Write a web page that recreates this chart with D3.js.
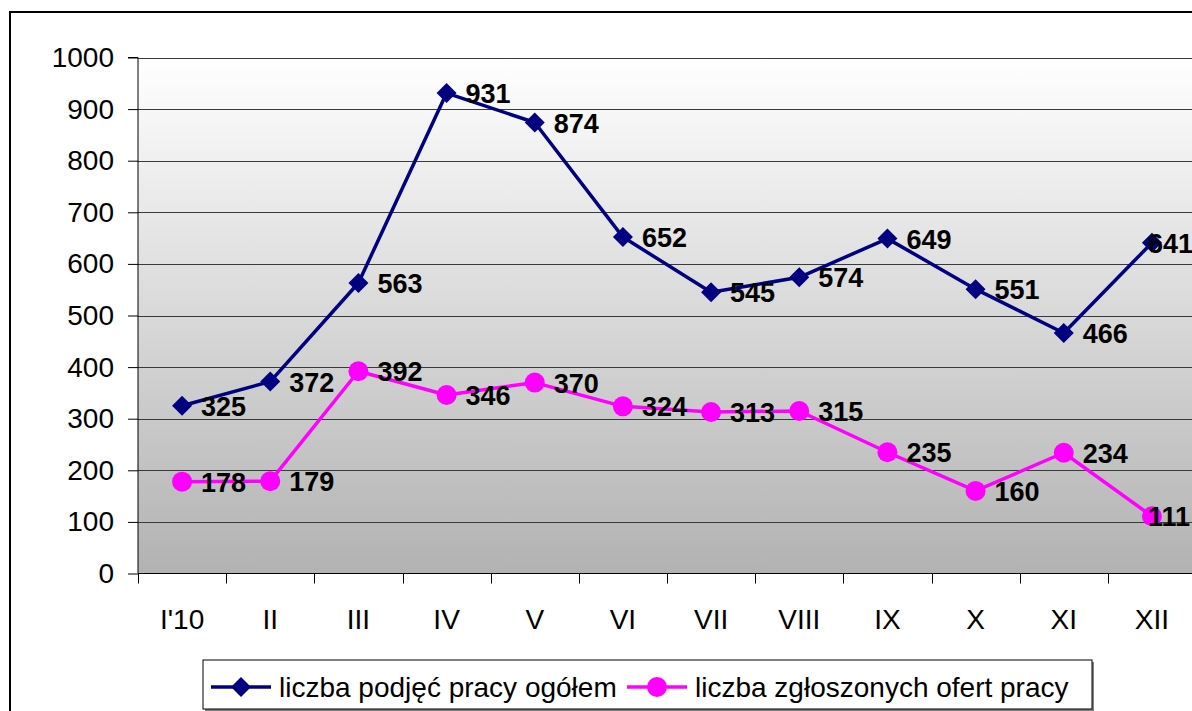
<!DOCTYPE html>
<html>
<head>
<meta charset="utf-8">
<script src="https://cdn.jsdelivr.net/npm/d3@7"></script>
<style>
    html, body { margin: 0; padding: 0; background: #fff; overflow: hidden; }
    svg { display: block; font-family: "Liberation Sans", Arial, sans-serif; }
</style>
</head>
<body>
<svg id="chart" width="1192" height="711"></svg>
<script>
// months of 2010
const months = ["I'10", "II", "III", "IV", "V", "VI", "VII", "VIII", "IX", "X", "XI", "XII"];
const totalJobs = [325, 372, 563, 931, 874, 652, 545, 574, 649, 551, 466, 641];
const jobOffers = [178, 179, 392, 346, 370, 324, 313, 315, 235, 160, 234, 111];
const yTicks = [0, 100, 200, 300, 400, 500, 600, 700, 800, 900, 1000];
const seriesNames = ["liczba podjęć pracy ogółem", "liczba zgłoszonych ofert pracy"];

const svg = d3.select('#chart');
const plot = { left: 138, right: 1196, top: 57.5, bottom: 573.5 };

const x = d3.scaleBand().domain(months).range([plot.left, plot.right]);
const y = d3.scaleLinear().domain([0, 1000]).range([plot.bottom, plot.top]);
const cx = d => x(d) + x.bandwidth() / 2;

// outer frame (right side is off the picture)
svg.append('rect')
    .attr('x', 10).attr('y', 12)
    .attr('width', 1300).attr('height', 800)
    .attr('fill', 'none')
    .attr('stroke', '#000')
    .attr('stroke-width', 2);

// gray gradient of the plot area
const grad = svg.append('defs').append('linearGradient')
    .attr('id', 'plotBg')
    .attr('x1', 0).attr('y1', 0).attr('x2', 0).attr('y2', 1);
grad.append('stop').attr('offset', '0%').attr('stop-color', '#ffffff');
grad.append('stop').attr('offset', '100%').attr('stop-color', '#b2b2b2');

svg.append('rect')
    .attr('x', plot.left).attr('y', plot.top)
    .attr('width', plot.right - plot.left)
    .attr('height', plot.bottom - plot.top)
    .attr('fill', 'url(#plotBg)');

// gridlines
svg.append('g')
    .selectAll('line')
    .data(yTicks.filter(t => t > 0))
    .enter()
    .append('line')
    .attr('x1', plot.left).attr('x2', plot.right)
    .attr('y1', d => Math.round(y(d)) + 0.5)
    .attr('y2', d => Math.round(y(d)) + 0.5)
    .attr('stroke', '#3a3a3a')
    .attr('stroke-width', 1);

// y axis
const yAxis = svg.append('g')
    .attr('transform', `translate(${plot.left},0)`)
    .call(d3.axisLeft(y).tickValues(yTicks).tickFormat(d3.format('d')).tickSize(10).tickPadding(14));
yAxis.selectAll('text')
    .attr('font-size', 28)
    .attr('fill', '#000')
    .attr('font-family', '"Liberation Sans", Arial, sans-serif');
yAxis.selectAll('line').attr('stroke', '#000');
yAxis.select('.domain').attr('stroke', '#000').attr('d', `M-10,${plot.top}H0V${plot.bottom}`);

// x axis
const xAxis = svg.append('g')
    .attr('transform', `translate(0,${plot.bottom})`)
    .call(d3.axisBottom(x).tickSize(0).tickPadding(0));
xAxis.select('.domain').attr('stroke', '#000').attr('d', `M${plot.left},0H${plot.right}`);
xAxis.selectAll('text')
    .attr('y', 55)
    .attr('dy', 0)
    .attr('font-size', 28)
    .attr('fill', '#000')
    .attr('font-family', '"Liberation Sans", Arial, sans-serif');

// tick marks between categories
xAxis.append('g')
    .selectAll('line')
    .data(months)
    .enter()
    .append('line')
    .attr('x1', d => Math.round(x(d)) + 0.5)
    .attr('x2', d => Math.round(x(d)) + 0.5)
    .attr('y1', 0).attr('y2', 10)
    .attr('stroke', '#000');

const line = d3.line()
    .x((d, i) => cx(months[i]))
    .y(d => y(d));

const diamond = d3.symbol().type(d3.symbolSquare).size(200);

function drawSeries(values, color, marker) {
    const g = svg.append('g');
    g.append('path')
        .datum(values)
        .attr('d', line)
        .attr('fill', 'none')
        .attr('stroke', color)
        .attr('stroke-width', 3.5)
        .attr('stroke-linejoin', 'round');

    const pts = g.selectAll('.pt')
        .data(values)
        .enter()
        .append('g')
        .attr('transform', (d, i) => `translate(${cx(months[i])},${y(d)})`);

    if (marker === 'diamond') {
        pts.append('path')
            .attr('d', diamond)
            .attr('transform', 'rotate(45)')
            .attr('fill', color);
    } else {
        pts.append('circle')
            .attr('r', 10)
            .attr('fill', color);
    }

    // value labels to the right of each point; the last one is pulled in at the edge
    g.selectAll('.lbl')
        .data(values)
        .enter()
        .append('text')
        .attr('x', (d, i) => cx(months[i]) + (i === values.length - 1 ? -4 : 19))
        .attr('y', d => y(d) + 10)
        .attr('font-size', 27)
        .attr('font-weight', 'bold')
        .attr('fill', '#000')
        .text(d => d);
}

drawSeries(totalJobs, '#000080', 'diamond');
drawSeries(jobOffers, '#ff00ff', 'circle');

// legend
const legend = svg.append('g');
legend.append('rect')
    .attr('x', 205).attr('y', 662)
    .attr('width', 889).attr('height', 50)
    .attr('fill', '#808080');
legend.append('rect')
    .attr('x', 203).attr('y', 660)
    .attr('width', 889).attr('height', 49)
    .attr('fill', '#fff')
    .attr('stroke', '#000')
    .attr('stroke-width', 1);

const legendItems = [
    { name: seriesNames[0], color: '#000080', marker: 'diamond', x0: 211 },
    { name: seriesNames[1], color: '#ff00ff', marker: 'circle', x0: 627 }
];
legendItems.forEach(item => {
    const ly = 687;
    legend.append('line')
        .attr('x1', item.x0).attr('x2', item.x0 + 60)
        .attr('y1', ly).attr('y2', ly)
        .attr('stroke', item.color)
        .attr('stroke-width', 3.5);
    if (item.marker === 'diamond') {
        legend.append('path')
            .attr('d', diamond)
            .attr('transform', `translate(${item.x0 + 30},${ly}) rotate(45)`)
            .attr('fill', item.color);
    } else {
        legend.append('circle')
            .attr('cx', item.x0 + 30).attr('cy', ly)
            .attr('r', 10)
            .attr('fill', item.color);
    }
    legend.append('text')
        .attr('x', item.x0 + 68)
        .attr('y', ly + 10)
        .attr('font-size', 28)
        .attr('fill', '#000')
        .text(item.name);
});
</script>
</body>
</html>
